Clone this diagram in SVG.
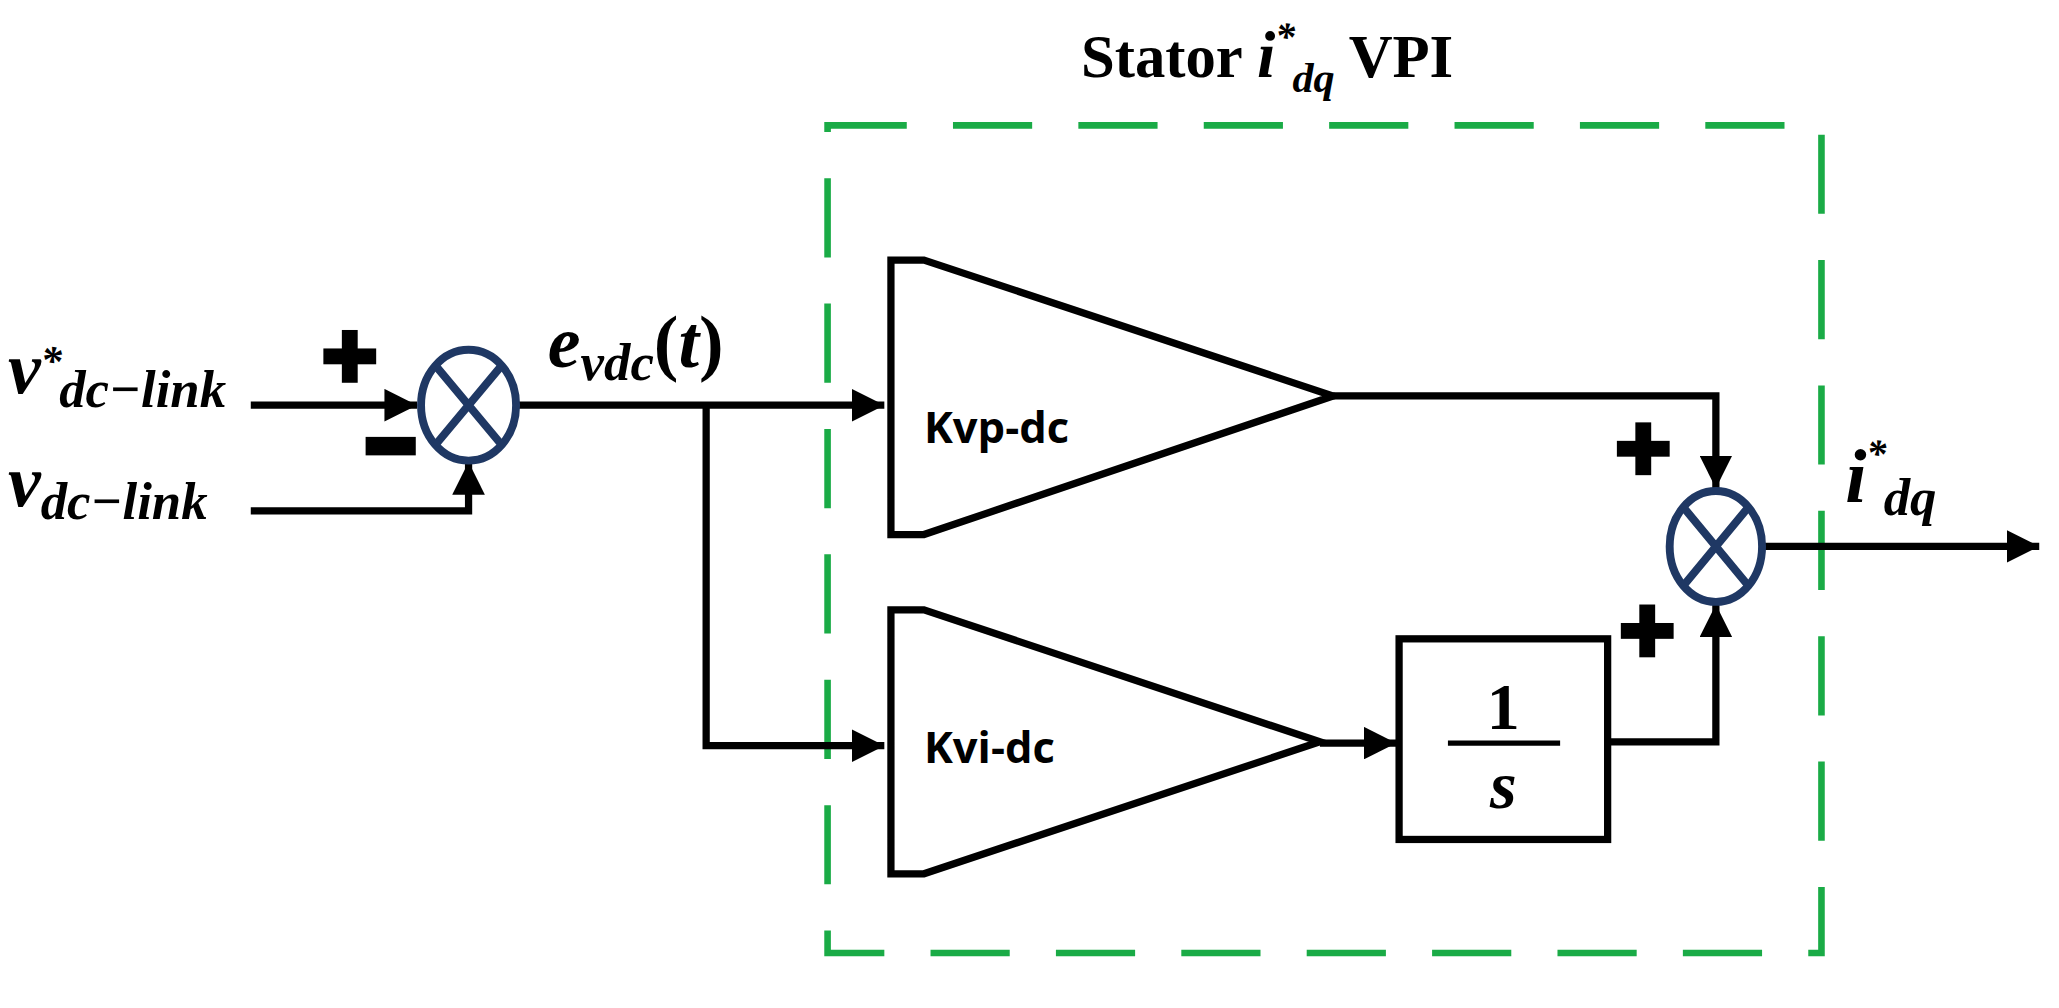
<svg xmlns="http://www.w3.org/2000/svg" width="2059" height="1008" viewBox="0 0 2059 1008">
<style>
.w{fill:none;stroke:#000;stroke-width:5.5}
.sum{fill:none;stroke:#1f3864;stroke-width:6}
.m{font-family:"Liberation Serif",serif;font-style:italic;font-weight:bold}
.k{font-family:"Open Sans","Liberation Sans",sans-serif;font-weight:bold;font-size:33px}
</style>
<defs><marker id="a" viewBox="0 0 10 10" refX="10" refY="5" markerWidth="4.5" markerHeight="4.5" orient="auto" markerUnits="strokeWidth"><path d="M0,0L10,5L0,10z"/></marker>
<g id="plus"><rect x="-6" y="-20" width="12" height="40"/><rect x="-20" y="-6" width="40" height="12"/></g></defs>
<rect width="2059" height="1008" fill="#fff"/>
<g transform="scale(1.3199)">
<g id="vpi"><rect x="627" y="95" width="753" height="627" fill="none" stroke="#1aab46" stroke-width="5" stroke-dasharray="60,35"/>
<text x="960" y="58" text-anchor="middle" font-family="Liberation Serif,serif" font-weight="bold" font-size="46">Stator <tspan class="m" font-size="50">i</tspan><tspan class="m" font-size="30" dy="-20">*</tspan><tspan class="m" font-size="32" dy="32" dx="-2">dq</tspan><tspan dy="-12"> VPI</tspan></text></g>
<g id="connectors">
<path class="w" d="M190,307H316" marker-end="url(#a)"/>
<path class="w" d="M190,387H355V350" marker-end="url(#a)"/>
<path class="w" d="M392,307H670" marker-end="url(#a)"/>
<path class="w" d="M535,307V565H670" marker-end="url(#a)"/>
<path class="w" d="M1010,300H1300V370" marker-end="url(#a)"/>
<path class="w" d="M1000,563H1058" marker-end="url(#a)"/>
<path class="w" d="M1218,562H1300V458" marker-end="url(#a)"/>
<path class="w" d="M1335,414H1545" marker-end="url(#a)"/>
</g>
<g id="sum1"><ellipse class="sum" cx="355" cy="307" rx="36" ry="42"/><path class="sum" d="M330,277L380,337M380,277L330,337"/></g>
<g id="sum2"><ellipse class="sum" cx="1300" cy="414" rx="35" ry="42"/><path class="sum" d="M1276,385L1324,443M1324,385L1276,443"/></g>
<g id="kvp"><polygon class="w" points="675,197 700,197 1010,300 700,405 675,405"/><text class="k" x="700" y="336">Kvp-dc</text></g>
<g id="kvi"><polygon class="w" points="675,462 700,462 1000,562 700,662 675,662"/><text class="k" x="700" y="578">Kvi-dc</text></g>
<g id="int"><rect class="w" x="1060" y="484" width="158" height="152"/><text x="1139" y="552" text-anchor="middle" font-family="Liberation Serif,serif" font-weight="bold" font-size="50">1</text><path d="M1097,563H1182" stroke="#000" stroke-width="4"/><text x="1139" y="612" text-anchor="middle" class="m" font-size="52">s</text></g>
<g id="labels">
<text class="m" font-size="56" x="6" y="298">v<tspan font-size="32" dy="-14">*</tspan><tspan font-size="40" dy="24" dx="-2">dc−link</tspan></text>
<text class="m" font-size="56" x="6" y="383">v<tspan font-size="40" dy="10">dc−link</tspan></text>
<text class="m" font-size="56" x="415" y="278">e<tspan font-size="40" dy="10">vdc</tspan><tspan dy="-10" font-style="normal">(</tspan>t<tspan font-style="normal">)</tspan></text>
<text class="m" font-size="58" x="1398" y="380">i<tspan font-size="30" dy="-26">*</tspan><tspan font-size="40" dy="36" dx="-2">dq</tspan></text>
<use href="#plus" x="265" y="270"/>
<rect x="277" y="331" width="38" height="14"/>
<use href="#plus" x="1245" y="340"/>
<use href="#plus" x="1248" y="478"/>
</g>
</g>
</svg>
